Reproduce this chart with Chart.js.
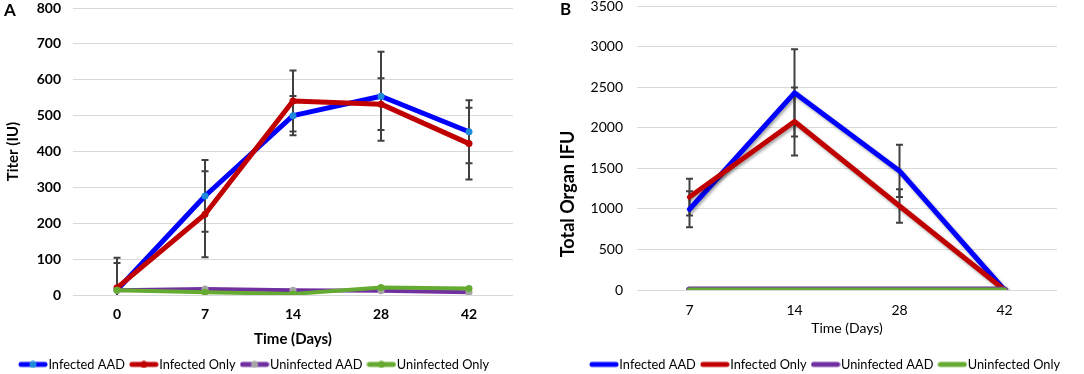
<!DOCTYPE html>
<html>
<head>
<meta charset="utf-8">
<script src="https://cdn.jsdelivr.net/npm/chart.js@4"></script>
<style>
html, body { margin: 0; padding: 0; background: #fff; }
#wrapA { position: absolute; left: 0; top: 0; width: 540px; height: 374px; }
#wrapB { position: absolute; left: 540px; top: 0; width: 544px; height: 374px; }
</style>
</head>
<body>
<div id="wrapA"><canvas id="chartA" width="540" height="374"></canvas></div>
<div id="wrapB"><canvas id="chartB" width="544" height="374"></canvas></div>
<script>
//--- DATA ---//
const seriesNames = ["Infected AAD", "Infected Only", "Uninfected AAD", "Uninfected Only"];

// panel A: titer
const daysA = ["0", "7", "14", "28", "42"];
const infAadA = [14, 276, 500, 554, 455];
const infOnlyA = [20, 225, 541, 532, 422];
const uninfAadA = [13, 17, 13, 12, 8];
const uninfOnlyA = [13, 8, 3, 21, 18];
const infAadErrA = [90, 100, 55, 124, 88];
const infOnlyErrA = [69, 120, 85, 72, 100];

// panel B: total organ IFU
const daysB = ["7", "14", "28", "42"];
const infAadB = [995, 2430, 1468, 0];
const infOnlyB = [1145, 2077, 1035, 0];
const uninfAadB = [0, 0, 0, 0];
const uninfOnlyB = [0, 0, 0, 0];
const infAadErrB = [222, 537, 323, null];
const infOnlyErrB = [226, 418, 206, null];

const lineColors = ["#0000ff", "#c00000", "#7030a0", "#66ab31"];
const markerColors = ["#1f8ad8", "#c00000", "#a5a5a5", "#66ab31"];

const FONT = "Lato";

//--- PLUGINS ---//
const errorBars = {
    id: "errorBars",
    beforeDatasetsDraw(chart) {
        const ctx = chart.ctx;
        const yScale = chart.scales.y;
        const area = chart.chartArea;
        ctx.save();
        ctx.beginPath();
        ctx.rect(area.left, area.top - 4, area.right - area.left, area.bottom - area.top + 4);
        ctx.clip();
        ctx.strokeStyle = "#404040";
        ctx.lineWidth = 2;
        chart.data.datasets.forEach((ds, i) => {
            if (!ds.errors) return;
            const meta = chart.getDatasetMeta(i);
            meta.data.forEach((pt, j) => {
                const e = ds.errors[j];
                if (e == null) return;
                const v = ds.data[j];
                const top = yScale.getPixelForValue(v + e);
                const bot = yScale.getPixelForValue(v - e);
                ctx.beginPath();
                ctx.moveTo(pt.x, top);
                ctx.lineTo(pt.x, bot);
                ctx.moveTo(pt.x - 3.5, top);
                ctx.lineTo(pt.x + 3.5, top);
                ctx.moveTo(pt.x - 3.5, bot);
                ctx.lineTo(pt.x + 3.5, bot);
                ctx.stroke();
            });
        });
        ctx.restore();
    }
};

// panel letter, plus an optional side title placed lower than Chart.js would centre it
const panelText = {
    id: "panelText",
    afterDraw(chart, args, opts) {
        const ctx = chart.ctx;
        ctx.save();
        ctx.font = "bold 17px " + FONT;
        ctx.fillStyle = "#000";
        ctx.textBaseline = "middle";
        ctx.fillText(opts.letter, opts.x, opts.y);
        if (opts.sideTitle) {
            ctx.translate(opts.sideX, opts.sideY);
            ctx.rotate(-Math.PI / 2);
            ctx.textAlign = "center";
            ctx.font = "bold 18px " + FONT;
            ctx.fillText(opts.sideTitle, 0, 0);
        }
        ctx.restore();
    }
};

const lineShadow = {
    id: "lineShadow",
    beforeDatasetsDraw(chart, args, opts) {
        if (!opts.on) return;
        chart.ctx.save();
        chart.ctx.shadowColor = "rgba(0,0,0,0.35)";
        chart.ctx.shadowBlur = 3;
        chart.ctx.shadowOffsetX = 1.5;
        chart.ctx.shadowOffsetY = 2;
    },
    afterDatasetsDraw(chart, args, opts) {
        if (!opts.on) return;
        chart.ctx.restore();
    }
};

// small line (+ dot) images for the legend
function legendIcon(lineColor, dotColor) {
    const c = document.createElement("canvas");
    c.width = 30;
    c.height = 8;
    const g = c.getContext("2d");
    g.strokeStyle = lineColor;
    g.lineWidth = 5;
    g.lineCap = "round";
    g.beginPath();
    g.moveTo(3, 4);
    g.lineTo(27, 4);
    g.stroke();
    if (dotColor) {
        g.fillStyle = dotColor;
        g.beginPath();
        g.arc(15, 4, 3.5, 0, Math.PI * 2);
        g.fill();
    }
    return c;
}

function legendOptions(withDots) {
    return {
        position: "bottom",
        align: withDots ? "center" : "end",
        maxHeight: 26,
        labels: {
            usePointStyle: true,
            pointStyleWidth: 18,
            padding: 10,
            color: "#000",
            font: { family: FONT, size: 12.8 },
            generateLabels(chart) {
                const items = Chart.defaults.plugins.legend.labels.generateLabels(chart);
                items.sort((a, b) => a.datasetIndex - b.datasetIndex);
                items.forEach((it) => {
                    const k = it.datasetIndex;
                    it.pointStyle = legendIcon(lineColors[k], withDots ? markerColors[k] : null);
                });
                return items;
            }
        }
    };
}

function makeDataset(label, data, idx, width, radius, errors) {
    return {
        label: label,
        data: data,
        errors: errors,
        borderColor: lineColors[idx],
        backgroundColor: markerColors[idx],
        pointBackgroundColor: markerColors[idx],
        pointBorderColor: markerColors[idx],
        borderWidth: width,
        pointRadius: radius,
        pointBorderWidth: 0,
        pointHoverRadius: radius,
        tension: 0,
        order: 4 - idx,
        borderJoinStyle: "round",
        borderCapStyle: "round"
    };
}

const plainTicks = (v) => String(v);

//--- PANEL A ---//
let chartA = new Chart(document.getElementById("chartA").getContext("2d"), {
    type: "line",
    data: {
        labels: daysA,
        datasets: [
            makeDataset(seriesNames[0], infAadA, 0, 5, 3.5, infAadErrA),
            makeDataset(seriesNames[1], infOnlyA, 1, 5, 3.5, infOnlyErrA),
            makeDataset(seriesNames[2], uninfAadA, 2, 4, 3.5),
            makeDataset(seriesNames[3], uninfOnlyA, 3, 4, 3.5)
        ]
    },
    options: {
        responsive: false,
        animation: false,
        layout: { padding: { left: 0, right: 27, top: 8, bottom: 0 } },
        plugins: {
            legend: legendOptions(true),
            tooltip: { enabled: false },
            panelText: { letter: "A", x: 4, y: 11 },
            lineShadow: { on: false }
        },
        scales: {
            x: {
                offset: true,
                grid: { display: false, drawTicks: false },
                border: { display: false },
                ticks: { padding: 11, color: "#000", font: { family: FONT, size: 14, weight: "bold" } },
                title: { display: true, text: "Time (Days)", color: "#000", padding: { top: 0, bottom: 0 },
                         font: { family: FONT, size: 15, weight: "bold" } },
                afterFit(scale) { scale.height = 53; }
            },
            y: {
                min: 0,
                max: 800,
                ticks: { stepSize: 100, padding: 0, color: "#000", callback: plainTicks,
                         font: { family: FONT, size: 14, weight: "bold", lineHeight: 1 } },
                grid: { color: "#d9d9d9", lineWidth: 1, drawTicks: true, tickLength: 12, tickColor: "rgba(0,0,0,0)" },
                border: { display: false },
                title: { display: true, text: "Titer (IU)", color: "#000", padding: { top: 4, bottom: 4 },
                         font: { family: FONT, size: 15, weight: "bold" } },
                afterFit(scale) { scale.width = 73; }
            }
        }
    },
    plugins: [errorBars, panelText, lineShadow]
});

//--- PANEL B ---//
let chartB = new Chart(document.getElementById("chartB").getContext("2d"), {
    type: "line",
    data: {
        labels: daysB,
        datasets: [
            makeDataset(seriesNames[0], infAadB, 0, 5, 0, infAadErrB),
            makeDataset(seriesNames[1], infOnlyB, 1, 5, 0, infOnlyErrB),
            makeDataset(seriesNames[2], uninfAadB, 2, 7, 0),
            makeDataset(seriesNames[3], uninfOnlyB, 3, 5, 0)
        ]
    },
    options: {
        responsive: false,
        animation: false,
        layout: { padding: { left: 0, right: 14, top: 6, bottom: 0 } },
        plugins: {
            legend: legendOptions(false),
            tooltip: { enabled: false },
            panelText: { letter: "B", x: 20, y: 10, sideTitle: "Total Organ IFU", sideX: 28, sideY: 194 },
            lineShadow: { on: true }
        },
        scales: {
            x: {
                offset: true,
                grid: { display: false, drawTicks: false },
                border: { display: false },
                ticks: { padding: 12, color: "#000", font: { family: FONT, size: 14 } },
                title: { display: true, text: "Time (Days)", color: "#000", padding: { top: 0, bottom: 11 },
                         font: { family: FONT, size: 14 } },
                afterFit(scale) { scale.height = 58; scale.paddingRight = 27; }
            },
            y: {
                min: 0,
                max: 3500,
                ticks: { stepSize: 500, padding: 0, color: "#000", callback: plainTicks,
                         font: { family: FONT, size: 14, lineHeight: 0.8 } },
                grid: { color: "#d9d9d9", lineWidth: 1, drawTicks: true, tickLength: 14, tickColor: "rgba(0,0,0,0)" },
                border: { display: false },
                afterFit(scale) { scale.width = 97; }
            }
        }
    },
    plugins: [errorBars, panelText, lineShadow]
});
</script>
</body>
</html>
